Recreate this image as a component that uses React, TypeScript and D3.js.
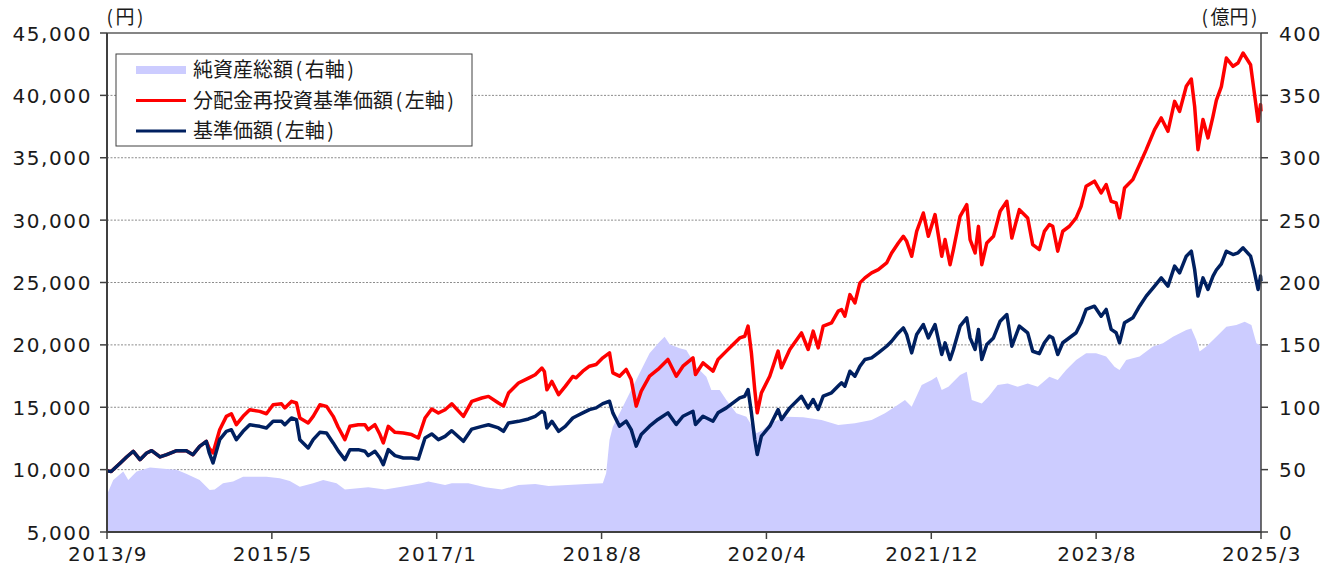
import React from 'react';
import * as d3 from 'd3';

// x positions are months elapsed since the first day of the chart (2013/9)
const navT = [
  0, 0.5, 1.6, 2.35, 3.15, 3.95, 4.75, 5.35, 6.35, 7.15,
  8.35, 9.5, 10.3, 11.1, 11.9, 12.25, 12.7, 13.5, 14.3, 14.9,
  15.5, 16.3, 17.1, 18.3, 19.1, 19.9, 20.9, 21.3, 22.1, 22.7,
  23.1, 24.1, 24.7, 25.5, 26.3, 27.1, 27.7, 28.5, 29.1, 30.1,
  30.9, 31.3, 32.1, 32.7, 33.1, 33.7, 34.5, 35.5, 36.5, 37.3,
  38.1, 38.9, 39.7, 40.5, 41.3, 42.7, 43.7, 44.9, 45.7, 46.9,
  47.5, 48.1, 49.3, 50.5, 51.3, 52.1, 52.4, 52.7, 53.3, 54.1,
  54.9, 55.8, 56.2, 57, 57.8, 58.6, 59.4, 60.2, 60.6, 61.4,
  62.2, 62.8, 63.4, 64, 65, 66, 67.2, 68.2, 69, 70.2,
  70.5, 71.4, 72.6, 73.2, 74.2, 75, 75.8, 76.4, 76.8, 77.2,
  77.6, 77.9, 78.4, 79.4, 80.4, 80.8, 81.8, 83.2, 84, 84.6,
  85.2, 85.8, 86.8, 87.6, 88, 88.4, 89, 89.6, 90.2, 90.8,
  91.6, 92.4, 93.4, 94, 94.8, 95.4, 95.8, 96.4, 97, 97.8,
  98.4, 99.2, 100, 100.4, 101, 101.4, 102.2, 103, 103.4, 104,
  104.4, 104.8, 105.4, 106.2, 107, 107.8, 108.4, 109.3, 110.3, 110.9,
  111.7, 112.3, 112.9, 113.3, 113.9, 114.5, 115.3, 116.1, 116.7, 117.3,
  118.3, 119.1, 119.7, 120.3, 120.9, 121.3, 121.9, 122.9, 123.7, 124.5,
  125.5, 126.3, 127.1, 127.9, 128.5, 129.3, 129.9, 130.3, 130.7, 131.3,
  131.9, 132.5, 132.9, 133.5, 134.1, 134.9, 135.5, 136.1, 137, 137.4,
  137.9, 138.2, 138.25,
];

// 基準価額 (円)
const navBase = [
  9900, 9850, 10535, 11015, 11470, 10800, 11335, 11520, 11015, 11200,
  11520, 11520, 11200, 11870, 12270, 11335, 10535, 12400, 13070, 13200,
  12400, 13070, 13600, 13470, 13340, 13870, 13870, 13600, 14140, 14000,
  12400, 11735, 12400, 12990, 12940, 12140, 11500, 10800, 11600, 11600,
  11470, 11120, 11470, 10935, 10400, 11600, 11120, 10935, 10935, 10855,
  12540, 12860, 12400, 12670, 13120, 12270, 13250, 13470, 13600, 13340,
  13070, 13740, 13870, 14060, 14270, 14670, 14540, 13340, 13870, 13070,
  13470, 14140, 14280, 14550, 14810, 14950, 15290, 15480, 14550, 13480,
  13880, 13210, 11880, 12820, 13480, 14020, 14550, 13620, 14280, 14680,
  13620, 14280, 13880, 14550, 14950, 15350, 15750, 15880, 16420, 14550,
  12410, 11210, 12680, 13480, 14810, 14020, 14950, 15880, 14950, 15620,
  14820, 15890, 16160, 16700, 16960, 16690, 17890, 17490, 18290, 18830,
  18960, 19360, 19890, 20290, 20960, 21360, 20830, 19360, 20830, 21630,
  20560, 21630, 19230, 20160, 18830, 19630, 21500, 22160, 20560, 19630,
  21230, 18830, 20030, 20560, 21900, 22430, 19890, 21500, 20960, 19490,
  19300, 20170, 20700, 20570, 19230, 20170, 20570, 20970, 21770, 22840,
  23100, 22300, 22840, 21240, 20970, 20170, 21770, 22170, 23100, 23910,
  24710, 25370, 24710, 26310, 25770, 27110, 27510, 26040, 23910, 25370,
  24440, 25510, 26000, 26500, 27510, 27240, 27380, 27780, 27110, 26040,
  24440, 25510, 25100,
];

// 分配金再投資基準価額 (円)
const navReinvest = [
  9900, 9850, 10535, 11015, 11470, 10800, 11335, 11520, 11015, 11200,
  11520, 11520, 11200, 11870, 12270, 11700, 11335, 13200, 14270, 14480,
  13600, 14270, 14800, 14670, 14480, 15200, 15280, 14940, 15470, 15340,
  14140, 13740, 14270, 15200, 15070, 14270, 13400, 12400, 13470, 13600,
  13600, 13200, 13600, 12810, 12140, 13470, 12990, 12940, 12810, 12540,
  14140, 14860, 14540, 14800, 15280, 14270, 15470, 15740, 15870, 15340,
  15100, 16140, 16940, 17340, 17610, 18140, 17870, 16400, 17070, 16010,
  16670, 17470, 17360, 17890, 18290, 18430, 18960, 19360, 17760, 17490,
  18030, 17220, 15090, 16290, 17490, 18030, 18830, 17490, 18290, 18960,
  17620, 18560, 17890, 18830, 19500, 20030, 20560, 20690, 21500, 19360,
  16420, 14550, 16150, 17490, 19500, 18160, 19630, 20960, 19630, 21100,
  19760, 21500, 21760, 22700, 22830, 22300, 24030, 23360, 24970, 25370,
  25770, 26030, 26570, 27370, 28170, 28700, 28300, 27100, 29100, 30570,
  28700, 30440, 27100, 28440, 26430, 27640, 30310, 31240, 28440, 27370,
  29500, 26430, 28170, 28700, 30710, 31510, 28570, 30840, 30170, 28040,
  27640, 29100, 29650, 29510, 27510, 29110, 29510, 30180, 31110, 32720,
  33120, 32180, 32850, 31510, 31380, 30180, 32580, 33250, 34450, 35650,
  37260, 38190, 37120, 39520, 38720, 40730, 41310, 39120, 35650, 38060,
  36590, 38320, 39600, 40700, 42990, 42330, 42600, 43400, 42460, 40460,
  37920, 39260, 38720,
];

const assetT = [
  0, 0.75, 1.95, 2.55, 3.55, 5.15, 7.15, 8.35, 9.55, 11.1,
  12.3, 12.9, 13.9, 15.1, 16.3, 19.1, 20.7, 21.9, 23.1, 24.7,
  25.9, 27.5, 28.5, 31.3, 33.3, 35.3, 37.7, 38.5, 40.5, 41.3,
  43.3, 45.3, 47.3, 49.3, 51.3, 52.9, 55.2, 57.4, 59.4, 59.8,
  60.2, 60.6, 61.8, 62.6, 63.8, 65, 66.2, 66.8, 67.4, 68.6,
  69.4, 70.6, 71.8, 72.4, 73.4, 74.2, 75.4, 76.6, 77.8, 78.6,
  79.4, 81.4, 83.4, 85.6, 87.6, 89.6, 91.6, 93.2, 94.4, 95.6,
  96.4, 97.6, 98.8, 99.4, 100, 100.8, 102.2, 103, 103.6, 104.8,
  105.6, 106.7, 107.9, 109.1, 110.3, 111.5, 112.9, 113.9, 114.9, 116.1,
  117.3, 118.5, 119.7, 120.7, 121.3, 122.1, 123.7, 125.3, 126.5, 127.7,
  129.3, 129.9, 130.5, 130.9, 131.7, 132.9, 134.1, 135.3, 136.3, 137.1,
  137.7, 138.1, 138.25,
];

// 純資産総額 (億円)
const assetValues = [
  30, 41.7, 48.4, 41.7, 48.4, 51.8, 50.5, 50, 46.5, 41.7,
  33.7, 34, 39, 40.4, 44.3, 44.3, 43, 40.9, 36.3, 39,
  41.7, 39, 34, 35.9, 34, 36.3, 39, 40.4, 37.7, 39,
  39, 35.9, 34, 37.7, 38.5, 36.8, 37.7, 38.5, 39, 47,
  73.7, 84.4, 100.4, 111.2, 127.2, 143.2, 152.6, 156.6, 150.5, 147.2,
  145.9, 132.5, 124.5, 113.8, 113.8, 105.8, 95.1, 92.4, 79.1, 81.8,
  87.1, 92.4, 92, 89.8, 85.8, 87.1, 89.8, 95.1, 100.4, 105.8,
  100.4, 117.8, 121.8, 124.5, 113.8, 116.5, 125.8, 128.5, 105.8, 103.1,
  108.4, 117.8, 119.1, 116.5, 119.1, 116.5, 124.5, 121.8, 129.9, 137.9,
  143.2, 143.2, 140.6, 132.5, 129.9, 137.9, 140.6, 148.6, 151.3, 156.6,
  161.9, 163.2, 153.9, 144.6, 148.6, 156.6, 164.6, 165.9, 168.6, 165.9,
  151.3, 150, 152,
];

const xTickLabels = ['2013/9', '2015/5', '2017/1', '2018/8', '2020/4', '2021/12', '2023/8', '2025/3'];
const leftTicks = [5000, 10000, 15000, 20000, 25000, 30000, 35000, 40000, 45000];
const rightTicks = [0, 50, 100, 150, 200, 250, 300, 350, 400];

const legendItems = [
  { name: '純資産総額', axis: '右軸', kind: 'area', color: '#CCCCFF' },
  { name: '分配金再投資基準価額', axis: '左軸', kind: 'line', color: '#FF0000' },
  { name: '基準価額', axis: '左軸', kind: 'line', color: '#002060' },
];

const NUM_FONT = '"DejaVu Sans", Verdana, sans-serif';
const JP_FONT = '"Noto Sans CJK JP", "Noto Sans", sans-serif';

// "(xx)" with the loose paren spacing of the original
const Paren: React.FC<{ text: string }> = ({ text }) => (
  <>
    <tspan dx={2.5}>(</tspan>
    <tspan dx={2.5}>{text}</tspan>
    <tspan dx={2.5}>)</tspan>
  </>
);

const App: React.FC = () => {
  const width = 1337;
  const height = 569;
  const left = 107, right = 1261, top = 33, bottom = 532;
  const span = 138.25;

  const x = d3.scaleLinear().domain([0, span]).range([left, right]);
  const yL = d3.scaleLinear().domain([5000, 45000]).range([bottom, top]);
  const yR = d3.scaleLinear().domain([0, 400]).range([bottom, top]);

  const area = d3.area<number>()
    .x((_, i) => x(assetT[i]))
    .y0(yR(0))
    .y1(d => yR(d));

  const line = d3.line<number>()
    .x((_, i) => x(navT[i]))
    .y(d => yL(d));

  const tickStep = span / (xTickLabels.length - 1);

  return (
    <svg width={width} height={height} style={{ position: 'absolute', left: 0, top: 0, background: '#fff' }}>
      {/* grid */}
      {leftTicks.filter(v => v > 5000 && v < 45000).map(v => (
        <line key={v} x1={left} x2={right} y1={yL(v)} y2={yL(v)}
          stroke="#8c8c8c" strokeWidth={1} strokeDasharray="2,1.5" />
      ))}

      <path d={area(assetValues) || ''} fill="#CCCCFF" />
      <path d={line(navReinvest) || ''} fill="none" stroke="#FF0000" strokeWidth={3.5} strokeLinejoin="round" />
      <path d={line(navBase) || ''} fill="none" stroke="#002060" strokeWidth={3.5} strokeLinejoin="round" />

      {/* frame */}
      <line x1={left} x2={right} y1={top} y2={top} stroke="#858585" strokeWidth={1.8} />
      <line x1={left} x2={left} y1={top} y2={bottom + 1} stroke="#404040" strokeWidth={2} />
      <line x1={right} x2={right} y1={top} y2={bottom + 1} stroke="#404040" strokeWidth={1.5} />
      <line x1={left} x2={right} y1={bottom} y2={bottom} stroke="#404040" strokeWidth={2} />

      {/* left axis */}
      {leftTicks.map(v => (
        <g key={v}>
          <line x1={left - 7} x2={left} y1={yL(v)} y2={yL(v)} stroke="#404040" strokeWidth={1.5} />
          <text x={92} y={yL(v) + 7.5} textAnchor="end" fontFamily={NUM_FONT} fontSize={20}
            letterSpacing={1.6} fill="#1a1a1a">{d3.format(',')(v)}</text>
        </g>
      ))}

      {/* right axis */}
      {rightTicks.map(v => (
        <g key={v}>
          <line x1={right} x2={right + 7} y1={yR(v)} y2={yR(v)} stroke="#404040" strokeWidth={1.5} />
          <text x={1279} y={yR(v) + 7.5} textAnchor="start" fontFamily={NUM_FONT} fontSize={20}
            letterSpacing={1.6} fill="#1a1a1a">{v}</text>
        </g>
      ))}

      {/* bottom axis */}
      {xTickLabels.map((label, i) => {
        const px = x(i * tickStep);
        return (
          <g key={label}>
            <line x1={px} x2={px} y1={bottom} y2={bottom + 7} stroke="#404040" strokeWidth={1.5} />
            <text x={px + 1} y={561} textAnchor="middle" fontFamily={NUM_FONT} fontSize={20}
              letterSpacing={1.6} fill="#1a1a1a">{label}</text>
          </g>
        );
      })}

      {/* unit labels */}
      <text x={104} y={24} fontFamily={JP_FONT} fontSize={19} fill="#1a1a1a"><Paren text="円" /></text>
      <text x={1199} y={24} fontFamily={JP_FONT} fontSize={19} fill="#1a1a1a"><Paren text="億円" /></text>

      {/* legend */}
      <rect x={116} y={54} width={356} height={92} fill="#fff" stroke="#404040" strokeWidth={1} />
      {legendItems.map((item, i) => {
        const cy = 70 + i * 30.5;
        return (
          <g key={item.name}>
            {item.kind === 'area'
              ? <rect x={136} y={cy - 4} width={50} height={8} fill={item.color} />
              : <line x1={136} x2={186} y1={cy} y2={cy} stroke={item.color} strokeWidth={3} />}
            <text x={193} y={cy + 7} fontFamily={JP_FONT} fontSize={20} fill="#1a1a1a">
              {item.name}<Paren text={item.axis} />
            </text>
          </g>
        );
      })}
    </svg>
  );
};

export default App;
